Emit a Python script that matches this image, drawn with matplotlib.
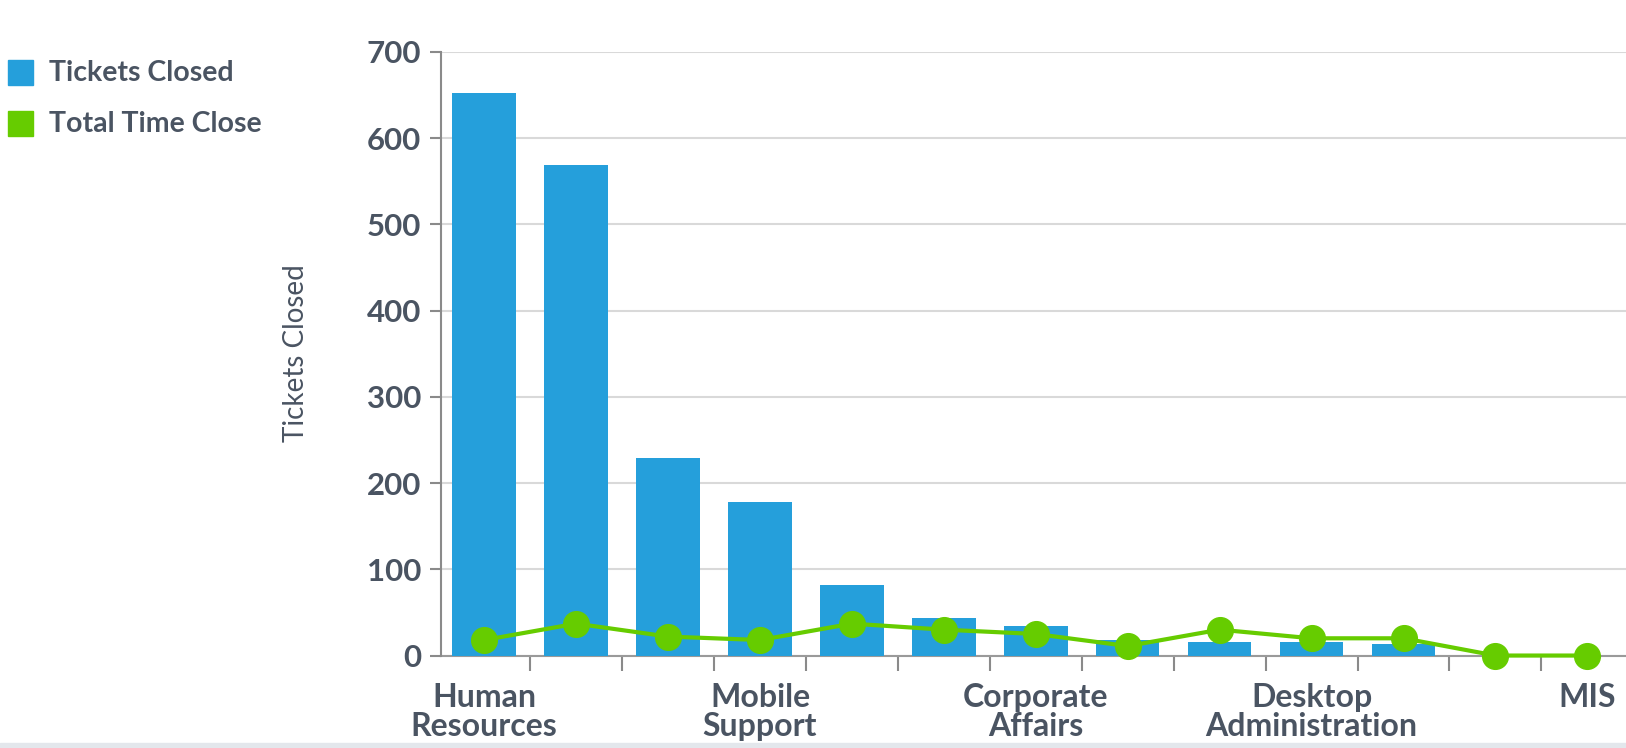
import numpy as np
import matplotlib
matplotlib.use("Agg")
from matplotlib import pyplot as plt
from matplotlib.patches import Rectangle

# data
categories = ["Human\nResources", "", "", "Mobile\nSupport", "", "",
              "Corporate\nAffairs", "", "", "Desktop\nAdministration", "", "", "MIS"]
tickets_closed = [652, 569, 229, 178, 82, 43, 34, 18, 16, 16, 13, 0, 0]
total_time_close = [18, 37, 22, 18, 37, 30, 25, 11, 30, 20, 20, 0, 0]

text_col = "#4a5462"
bar_col = "#259fdb"
line_col = "#66cc00"

plt.rcParams['font.family'] = ['Lato', 'DejaVu Sans']

fig = plt.figure(figsize=(16.26, 7.48), dpi=100)
# layout measured on a 1565x720 view of the reference
W, H = 1565, 720
ax = fig.add_axes([424 / W, 1 - 631 / H, (W - 424) / W, (631 - 50) / H])

x = np.arange(len(categories))
ax.bar(x, tickets_closed, width=0.69, color=bar_col, zorder=2)
ax.plot(x, total_time_close, color=line_col, lw=3, marker='o', ms=18.5,
        zorder=3, clip_on=False)

ax.set_xlim(-0.475, 12.42)
ax.set_ylim(0, 700)
ax.set_yticks(range(0, 701, 100))
ax.yaxis.grid(True, color="#d9d9d9", lw=1.5, zorder=0)
ax.set_axisbelow(True)

# boundary ticks (no labels), category labels on minor ticks
ax.set_xticks(np.arange(0.5, 12, 1))
ax.set_xticklabels([])
ax.set_xticks(x, minor=True)
ax.set_xticklabels(categories, minor=True, fontsize=23, fontweight='bold',
                   color=text_col, linespacing=1.0)
ax.tick_params(axis='x', which='major', length=11, width=1.5, color="#8a8a8a")
ax.tick_params(axis='x', which='minor', length=0, pad=20)
ax.tick_params(axis='y', length=8, width=1.5, color="#8a8a8a",
               labelsize=22.5, labelcolor=text_col, pad=6)
for lab in ax.get_yticklabels():
    lab.set_fontweight('bold')

for s in ['top', 'right']:
    ax.spines[s].set_visible(False)
ax.spines['left'].set_color("#8a8a8a")
ax.spines['left'].set_linewidth(1.5)
ax.spines['bottom'].set_color("#9a9a9a")
ax.spines['bottom'].set_linewidth(1.5)
ax.spines['bottom'].set_zorder(1)

fig.text(285 / W, 1 - 340 / H, "Tickets Closed", rotation=90, fontsize=20,
         color=text_col, ha='center', va='center')

# legend
for i, (lab, c) in enumerate([("Tickets Closed", bar_col), ("Total Time Close", line_col)]):
    yc = 70 + i * 49
    fig.patches.append(Rectangle((8 / W, 1 - (yc + 12) / H), 24 / W, 24 / H,
                                 transform=fig.transFigure, color=c))
    fig.text(47 / W, 1 - yc / H, lab, fontsize=20.5, fontweight='bold',
             color=text_col, va='center', ha='left')

# light strip at the bottom edge
fig.patches.append(Rectangle((0, 0), 1, 5 / H, transform=fig.transFigure,
                             color="#e3e7ec"))

plt.savefig('out.png', dpi=100)
